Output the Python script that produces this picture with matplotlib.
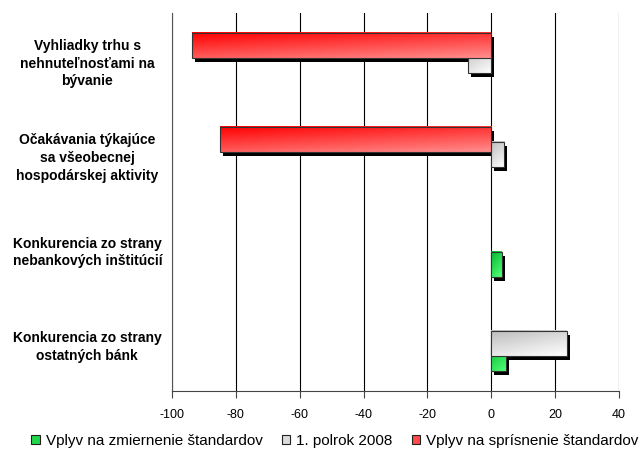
import matplotlib
matplotlib.use('Agg')
import matplotlib.pyplot as plt
import numpy as np
from matplotlib.patches import Rectangle, Patch
from matplotlib.colors import LinearSegmentedColormap
import matplotlib.transforms as mtransforms

plt.rcParams['font.family'] = ['Liberation Sans', 'DejaVu Sans']

# data
categories = ['Vyhliadky trhu s\nnehnuteľnosťami na\nbývanie',
              'Očakávania týkajúce\nsa všeobecnej\nhospodárskej aktivity',
              'Konkurencia zo strany\nnebankových inštitúcií',
              'Konkurencia zo strany\nostatných bánk']
series_names = ['Vplyv na zmiernenie štandardov', '1. polrok 2008',
                'Vplyv na sprísnenie štandardov']
easing = [0, 0, 3.4, 4.7]
first_half_2008 = [-7.4, 4.1, 0, 23.7]
tightening = [-93.6, -85.1, 0, 0]
xticks = [-100, -80, -60, -40, -20, 0, 20, 40]

# gradient colours (top-left -> bottom-right) and legend colour
grads = [('#00b830', '#55ff77'), ('#bdbdbd', '#ffffff'), ('#ff0000', '#ff8c8c')]
legend_cols = ['#22d84a', '#dcdcdc', '#ff4a4a']
offsets = [0.16, 0.0, -0.16]
height = 0.265

fig = plt.figure(figsize=(6.42, 4.5), dpi=100)
ax = fig.add_axes([0.268, 0.131, 0.696, 0.84])

shadow_tr = ax.transData + mtransforms.ScaledTranslation(0.03, -0.04, fig.dpi_scale_trans)

u = np.linspace(0, 1, 60)[None, :]
v = np.linspace(0, 1, 20)[:, None]
grad = 0.35 * u + 0.65 * v

all_vals = [easing, first_half_2008, tightening]
for s, vals in enumerate(all_vals):
    cmap = LinearSegmentedColormap.from_list('g%d' % s, grads[s])
    for i, val in enumerate(vals):
        if val == 0:
            continue
        yc = i + offsets[s]
        x0, x1 = min(0, val), max(0, val)
        # shadow
        ax.add_patch(Rectangle((x0, yc - height / 2), x1 - x0, height,
                               facecolor='black', edgecolor='none',
                               transform=shadow_tr, zorder=1))
        ax.imshow(grad, cmap=cmap, aspect='auto', origin='upper',
                  extent=(x0, x1, yc + height / 2, yc - height / 2),
                  interpolation='bilinear', zorder=2 + s)
        ax.add_patch(Rectangle((x0, yc - height / 2), x1 - x0, height,
                               facecolor='none', edgecolor='#333333',
                               linewidth=0.8, zorder=2.1 + s))

ax.set_xlim(-100, 40)
ax.set_ylim(3.5, -0.5)
ax.set_xticks(xticks)
ax.set_xticklabels([str(t) for t in xticks], fontsize=9)
ax.grid(axis='x', color='black', linewidth=0.8)
ax.set_axisbelow(True)

ax.set_yticks(range(len(categories)))
ax.set_yticklabels(categories, fontsize=10, fontweight='bold',
                   ha='center', linespacing=1.33)
ax.tick_params(axis='y', length=0, pad=61)
ax.tick_params(axis='x', length=5, width=0.8, color='#444444', pad=8)

for side in ['top', 'right']:
    ax.spines[side].set_visible(False)
ax.spines['left'].set_color('#555555')
ax.spines['bottom'].set_color('#444444')

handles = [Patch(facecolor=legend_cols[k], edgecolor='#222222', linewidth=0.8,
                 label=series_names[k]) for k in range(3)]
fig.legend(handles=handles, loc='center', bbox_to_anchor=(0.522, 0.02),
           ncol=3, frameon=False, fontsize=11, handlelength=0.55,
           handleheight=0.55, handletextpad=0.4, columnspacing=1.25,
           borderpad=0.1)

fig.savefig('out.png', dpi=100)
